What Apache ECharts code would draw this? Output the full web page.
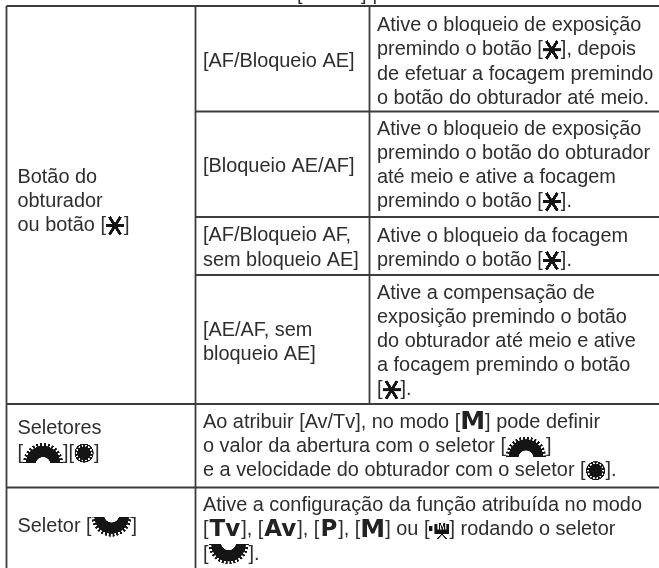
<!DOCTYPE html>
<html>
<head>
<meta charset="utf-8">
<style>
  html, body { margin: 0; padding: 0; background: #fff; }
  #main { width: 659px; height: 568px; }
</style>
</head>
<body>
<div id="main"></div>
<script src="https://cdn.jsdelivr.net/npm/echarts@6/dist/echarts.min.js"></script>
<script>
// Table borders, in page pixels on the hidden axes
var columnEdges = [6.5, 195.5, 369.5];
var rowEdges = [6, 111.5, 217, 275, 404, 487.5];

// Text of every cell, line by line
var headerText = ['[MENU] |'];
var shutterLabel = ['Botão do', 'obturador', 'ou botão [{star| }]'];
var lockLabels = [
  ['[AF/Bloqueio AE]'],
  ['[Bloqueio AE/AF]'],
  ['[AF/Bloqueio AF,', 'sem bloqueio AE]'],
  ['[AE/AF, sem', 'bloqueio AE]']
];
var lockDescriptions = [
  ['Ative o bloqueio de exposição', 'premindo o botão [{star| }], depois', 'de efetuar a focagem premindo', 'o botão do obturador até meio.'],
  ['Ative o bloqueio de exposição', 'premindo o botão do obturador', 'até meio e ative a focagem', 'premindo o botão [{star| }].'],
  ['Ative o bloqueio da focagem', 'premindo o botão [{star| }].'],
  ['Ative a compensação de', 'exposição premindo o botão', 'do obturador até meio e ative', 'a focagem premindo o botão', '[{star| }].']
];
var dialsLabel = ['Seletores', '[{up| }][{round| }]'];
var dialsDescription = ['Ao atribuir [Av/Tv], no modo [{m|M}] pode definir', 'o valor da abertura com o seletor [{up| }]', 'e a velocidade do obturador com o seletor [{round| }].'];
var dialLabel = ['Seletor [{down| }]'];
var dialDescription = ['Ative a configuração da função atribuída no modo', '[{b|Tv}], [{b|Av}], [{b|P}], [{m|M}] ou [{movie| }] rodando o seletor', '[{down| }].'];

var cellLines = [headerText, shutterLabel].concat(lockLabels, lockDescriptions, [dialsLabel, dialsDescription, dialLabel, dialDescription]);

// Where each cell's text block sits: left x, middle y
var textX = [297, 17.5, 203, 203, 203, 203, 377, 377, 377, 377, 17.5, 203, 17.5, 203];
var textY = [-5, 201.5, 61.5, 166.5, 248, 342.5, 62, 165.5, 248.5, 341.5, 441, 446.5, 526.5, 530];

var TEXT_COLOR = '#2e2e2e';
var LINE_COLOR = '#3d3d3d';
var LINE_HEIGHT = 24.2;

function newIcon(w, h) {
  var c = document.createElement('canvas');
  c.width = w * 4;
  c.height = h * 4;
  var ctx = c.getContext('2d');
  ctx.scale(4, 4);
  ctx.fillStyle = '#151515';
  ctx.strokeStyle = '#151515';
  return { canvas: c, ctx: ctx };
}

function starIcon() {
  var ic = newIcon(18, 20), ctx = ic.ctx;
  ctx.lineWidth = 3;
  [0, 58, 122].forEach(function (a) {
    var r = a * Math.PI / 180, len = a === 0 ? 9 : 10.5;
    ctx.beginPath();
    ctx.moveTo(9 - Math.cos(r) * len, 10 - Math.sin(r) * len);
    ctx.lineTo(9 + Math.cos(r) * len, 10 + Math.sin(r) * len);
    ctx.stroke();
  });
  return ic.canvas;
}

// half a gear wheel, flip=true turns it upside down
function gearIcon(flip) {
  var ic = newIcon(40, 20), ctx = ic.ctx;
  if (flip) {
    ctx.translate(0, 20);
    ctx.scale(1, -1);
  }
  var cx = 20, cy = 20;
  ctx.beginPath();
  ctx.arc(cx, cy, 20, Math.PI, Math.PI * 2);
  ctx.closePath();
  ctx.fill();
  // notches between the teeth
  ctx.globalCompositeOperation = 'destination-out';
  ctx.lineWidth = 1.9;
  for (var i = 0; i < 15; i++) {
    var a = Math.PI + (i + 0.5) * Math.PI / 15;
    ctx.beginPath();
    ctx.moveTo(cx + Math.cos(a) * 17.2, cy + Math.sin(a) * 17.2);
    ctx.lineTo(cx + Math.cos(a) * 22, cy + Math.sin(a) * 22);
    ctx.stroke();
  }
  // scooped out underside
  ctx.beginPath();
  ctx.arc(cx, cy + 1.5, 7.5, 0, Math.PI * 2);
  ctx.fill();
  return ic.canvas;
}

function roundIcon() {
  var ic = newIcon(20, 20), ctx = ic.ctx;
  ctx.beginPath();
  ctx.arc(10, 10, 9.5, 0, Math.PI * 2);
  ctx.fill();
  ctx.fillStyle = '#fff';
  for (var i = 0; i < 14; i++) {
    var a = i * Math.PI / 7;
    ctx.beginPath();
    ctx.arc(10 + Math.cos(a) * 7.6, 10 + Math.sin(a) * 7.6, 0.9, 0, Math.PI * 2);
    ctx.fill();
  }
  return ic.canvas;
}

function movieIcon() {
  var ic = newIcon(20, 18), ctx = ic.ctx;
  ctx.fillRect(0, 5, 3, 5);
  ctx.fillRect(5, 3, 15, 10);
  ctx.lineWidth = 1.2;
  ctx.beginPath();
  ctx.moveTo(12.5, 13);
  ctx.lineTo(8, 18);
  ctx.moveTo(12.5, 13);
  ctx.lineTo(17, 18);
  ctx.stroke();
  ctx.fillStyle = '#fff';
  ctx.fillRect(8, 2, 9, 6.5);
  ctx.fillStyle = '#151515';
  ctx.font = 'bold 9px "Liberation Sans"';
  ctx.fillText('M', 9, 8.5);
  return ic.canvas;
}

var richStyles = {
  star: { width: 18, height: 20, backgroundColor: { image: starIcon() } },
  up: { width: 40, height: 20, backgroundColor: { image: gearIcon(false) } },
  down: { width: 40, height: 20, backgroundColor: { image: gearIcon(true) } },
  round: { width: 20, height: 20, backgroundColor: { image: roundIcon() } },
  movie: { width: 20, height: 18, backgroundColor: { image: movieIcon() } },
  b: { fontFamily: 'DejaVu Sans', fontWeight: 'bold', fontSize: 23, fill: '#222', padding: [0, 1, 0, 1] },
  m: { fontFamily: 'DejaVu Sans', fontWeight: 'bold', fontSize: 25, fill: '#222' }
};

function renderTextCell(params, api) {
  var lines = cellLines[params.dataIndex];
  var x = api.value(0), mid = api.value(1);
  var children = lines.map(function (line, i) {
    var pos = api.coord([x, mid + (i - (lines.length - 1) / 2) * LINE_HEIGHT]);
    return {
      type: 'text',
      x: pos[0],
      y: pos[1],
      style: {
        text: line,
        fill: TEXT_COLOR,
        fontFamily: 'Liberation Sans',
        fontSize: 19.9,
        verticalAlign: 'middle',
        align: 'left',
        rich: richStyles
      }
    };
  });
  return { type: 'group', children: children };
}

// a border runs from (x1,y1) to (x2,y2) in axis units
var borderStyle = { stroke: LINE_COLOR, lineWidth: 1.8 };
function renderBorder(params, api) {
  var a = api.coord([api.value(0), api.value(1)]);
  var b = api.coord([api.value(2), api.value(3)]);
  return { type: 'line', shape: { x1: a[0], y1: a[1], x2: b[0], y2: b[1] }, style: borderStyle };
}

var PAGE_RIGHT = 659, PAGE_BOTTOM = 568;
var borders = [
  [columnEdges[0], rowEdges[0], columnEdges[0], PAGE_BOTTOM],
  [columnEdges[1], rowEdges[0], columnEdges[1], PAGE_BOTTOM],
  [columnEdges[2], rowEdges[0], columnEdges[2], rowEdges[4]]
];
rowEdges.forEach(function (y, i) {
  // the inner rows of the first cell stop at its right border
  var from = (i >= 1 && i <= 3) ? columnEdges[1] : columnEdges[0];
  borders.push([from, y, PAGE_RIGHT, y]);
});

var chart = echarts.init(document.getElementById('main'), null, { renderer: 'canvas' });
chart.setOption({
  animation: false,
  backgroundColor: '#fff',
  grid: { left: 0, right: 0, top: 0, bottom: 0 },
  xAxis: { type: 'value', min: 0, max: PAGE_RIGHT, show: false },
  yAxis: { type: 'value', min: 0, max: PAGE_BOTTOM, inverse: true, show: false },
  series: [
    {
      type: 'custom',
      coordinateSystem: 'cartesian2d',
      clip: false,
      silent: true,
      renderItem: renderBorder,
      encode: { x: [0, 2], y: [1, 3] },
      data: borders
    },
    {
      type: 'custom',
      coordinateSystem: 'cartesian2d',
      clip: false,
      silent: true,
      renderItem: renderTextCell,
      encode: { x: 0, y: 1 },
      data: textX.map(function (x, i) { return [x, textY[i]]; })
    }
  ]
});
</script>
</body>
</html>
